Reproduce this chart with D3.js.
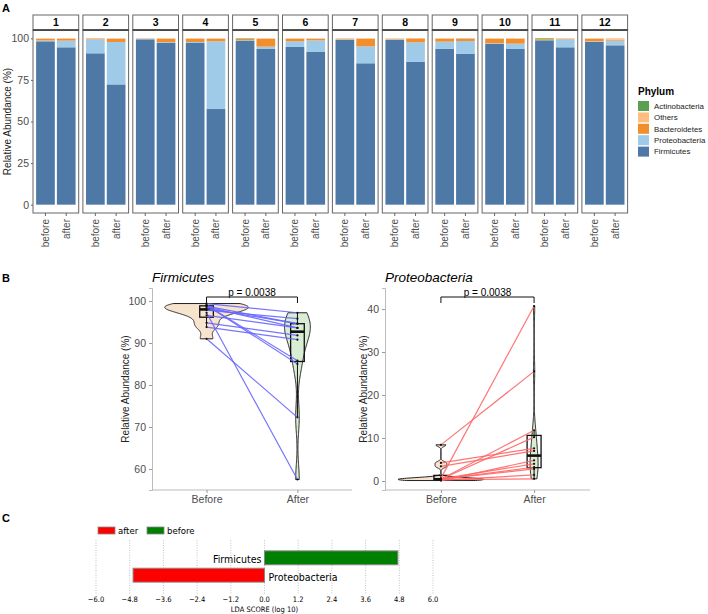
<!DOCTYPE html>
<html>
<head>
<meta charset="utf-8">
<script src="https://cdn.jsdelivr.net/npm/d3@7"></script>
<style>
  body { margin: 0; background: #fff; }
  text { font-family: Arial, "Liberation Sans", sans-serif; }
  .narrow { font-family: "Liberation Sans Narrow", "DejaVu Sans Condensed", Arial, sans-serif; }
</style>
</head>
<body>
<svg id="fig" width="708" height="614"></svg>
<script>
// ---- data ----
const samples = ['1','2','3','4','5','6','7','8','9','10','11','12'];
const times = ['before', 'after'];
const phyla = ['Firmicutes', 'Proteobacteria', 'Bacteroidetes', 'Others', 'Actinobacteria'];
const phylumColors = ['#4E79A7', '#A0CBE8', '#F28E2B', '#FFBE7D', '#59A14F'];

const firmBefore  = [98.2, 91.0, 99.4, 97.2, 98.6, 94.8, 99.0, 99.0, 93.8, 96.6, 98.8, 97.8];
const protBefore  = [0.5, 8.4, 0.3, 0.6, 0.2, 3.4, 0.4, 0.4, 4.2, 0.4, 0.1, 0.4];
const bactBefore  = [1.0, 0.5, 0.2, 2.0, 0.8, 1.6, 0.4, 0.3, 1.8, 2.8, 0.6, 1.6];
const othBefore   = [0.3, 0.1, 0.1, 0.2, 0.1, 0.2, 0.2, 0.3, 0.2, 0.2, 0.1, 0.2];
const actBefore   = [0, 0, 0, 0, 0.3, 0, 0, 0, 0, 0, 0.4, 0];

const firmAfter   = [94.6, 72.3, 97.2, 57.5, 93.6, 91.8, 85.0, 85.8, 90.8, 93.6, 94.6, 95.8];
const protAfter   = [4.0, 25.5, 0.5, 40.7, 1.4, 7.0, 10.2, 11.8, 7.6, 3.2, 4.8, 2.8];
const bactAfter   = [1.2, 2.0, 2.1, 1.6, 4.8, 1.0, 4.6, 2.3, 1.5, 3.0, 0.4, 0.6];
const othAfter    = [0.2, 0.2, 0.2, 0.2, 0.2, 0.2, 0.2, 0.1, 0.1, 0.2, 0.2, 0.8];
const actAfter    = [0, 0, 0, 0, 0, 0, 0, 0, 0, 0, 0, 0];

const groups = ['Before', 'After'];
const yTicksA = [0, 25, 50, 75, 100];
const yTicksFirm = [60, 70, 80, 90, 100];
const yTicksProt = [0, 10, 20, 30, 40];
const pLabel = 'p = 0.0038';

const ldaTaxa = ['Firmicutes', 'Proteobacteria'];
const ldaScores = [4.75, -4.68];
const ldaClasses = ['after', 'before'];
const ldaColors = ['#FF0000', '#008000'];
const ldaTicks = [-6.0, -4.8, -3.6, -2.4, -1.2, 0.0, 1.2, 2.4, 3.6, 4.8, 6.0];

const svg = d3.select('#fig');

// ---- panel A: stacked bars per subject ----
const series = {
  before: [firmBefore, protBefore, bactBefore, othBefore, actBefore],
  after:  [firmAfter, protAfter, bactAfter, othAfter, actAfter]
};
const rows = [];
samples.forEach((s, i) => times.forEach(t => {
  const r = {sample: s, time: t};
  phyla.forEach((p, k) => r[p] = series[t][k][i]);
  rows.push(r);
}));
const stacked = d3.stack().keys(phyla)(rows);

const A = {x0: 33, step: 49.9, w: 45.7, top: 15, strip: 15, bottom: 213};
const yA = d3.scaleLinear().domain([-5, 105]).range([A.bottom, A.top + A.strip]);
const xA = d3.scaleBand().domain(times).range([0, A.w]).paddingInner(0.1).paddingOuter(0.15);
const colorA = d3.scaleOrdinal().domain(phyla).range(phylumColors);

samples.forEach((s, i) => {
  const g = svg.append('g').attr('transform', `translate(${A.x0 + i * A.step},0)`);
  g.append('rect')
    .attr('y', A.top + A.strip).attr('width', A.w).attr('height', A.bottom - A.top - A.strip)
    .attr('fill', '#fff');

  stacked.forEach(layer => {
    layer.filter(d => d.data.sample === s).forEach(d => {
      g.append('rect')
        .attr('x', xA(d.data.time))
        .attr('width', xA.bandwidth())
        .attr('y', yA(d[1]))
        .attr('height', Math.max(0, yA(d[0]) - yA(d[1])))
        .attr('fill', colorA(layer.key));
    });
  });

  g.append('rect')
    .attr('y', A.top + A.strip).attr('width', A.w).attr('height', A.bottom - A.top - A.strip)
    .attr('fill', 'none').attr('stroke', '#666').attr('stroke-width', 1);
  // strip
  g.append('rect')
    .attr('y', A.top).attr('width', A.w).attr('height', A.strip)
    .attr('fill', '#fff').attr('stroke', '#666').attr('stroke-width', 1);
  g.append('line')
    .attr('x1', 0).attr('x2', A.w).attr('y1', A.top + A.strip).attr('y2', A.top + A.strip)
    .attr('stroke', '#333').attr('stroke-width', 1.5);
  g.append('text')
    .attr('x', A.w / 2).attr('y', A.top + A.strip / 2).attr('dy', '0.35em')
    .attr('text-anchor', 'middle').attr('font-size', 10.5).attr('font-weight', 'bold')
    .text(s);

  const xAxis = g.append('g').attr('transform', `translate(0,${A.bottom})`)
    .call(d3.axisBottom(xA).tickSize(3).tickPadding(2));
  xAxis.select('.domain').remove();
  xAxis.selectAll('line').attr('stroke', '#666');
  xAxis.selectAll('text')
    .attr('transform', 'rotate(-90)')
    .attr('text-anchor', 'end')
    .attr('x', -6).attr('y', 0).attr('dy', '0.35em')
    .attr('font-size', 10).attr('fill', '#4d4d4d');
});

const yAxisA = svg.append('g').attr('transform', `translate(${A.x0},0)`)
  .call(d3.axisLeft(yA).tickValues(yTicksA).tickSize(2).tickPadding(2));
yAxisA.select('.domain').remove();
yAxisA.selectAll('line').attr('stroke', '#666');
yAxisA.selectAll('text').attr('font-size', 10.5).attr('fill', '#4d4d4d');

svg.append('text')
  .attr('transform', `translate(7,${(yA(0) + yA(100)) / 2}) rotate(-90)`)
  .attr('text-anchor', 'middle').attr('dy', '0.35em')
  .attr('font-size', 10).attr('fill', '#222')
  .text('Relative Abundance (%)');

// legend A
const legA = svg.append('g').attr('transform', 'translate(638,87)');
legA.append('text').attr('y', 8).attr('font-size', 10).attr('font-weight', 'bold').text('Phylum');
phyla.slice().reverse().forEach((p, i) => {
  legA.append('rect').attr('x', 0).attr('y', 14 + i * 11.4).attr('width', 11).attr('height', 10)
    .attr('fill', colorA(p));
  legA.append('text').attr('x', 16).attr('y', 19 + i * 11.4).attr('dy', '0.35em')
    .attr('font-size', 7.9).attr('fill', '#222').text(p);
});

// panel labels
svg.append('text').attr('x', 2).attr('y', 12).attr('font-size', 11).attr('font-weight', 'bold').text('A');
svg.append('text').attr('x', 2).attr('y', 282).attr('font-size', 11).attr('font-weight', 'bold').text('B');
svg.append('text').attr('x', 2).attr('y', 522).attr('font-size', 11).attr('font-weight', 'bold').text('C');

// ---- panel B: violin + box + paired lines ----
function kde(values, lo, hi) {
  const sorted = values.slice().sort(d3.ascending);
  const sd = d3.deviation(values);
  const iqr = d3.quantile(sorted, 0.75) - d3.quantile(sorted, 0.25);
  const bw = 0.9 * Math.min(sd, iqr / 1.34) * Math.pow(values.length, -0.2);
  return d3.range(0, 201).map(i => {
    const y = lo + (hi - lo) * i / 200;
    const dens = d3.mean(values, v => Math.exp(-0.5 * ((y - v) / bw) ** 2) / Math.sqrt(2 * Math.PI)) / bw;
    return [y, dens];
  });
}

function violinPanel(cfg) {
  const g = svg.append('g');
  const x = d3.scalePoint().domain(groups).range([cfg.left, cfg.right]).padding(0.6);
  const step = x.step();
  const y = d3.scaleLinear().domain(cfg.yDomain).range([490, 288]);
  const vals = [cfg.before, cfg.after];

  const dens = vals.map(v => kde(v, d3.min(v), d3.max(v)));
  const maxD = d3.max(dens, d => d3.max(d, e => e[1]));
  const wScale = d3.scaleLinear().domain([0, maxD]).range([0, 0.46 * step]);

  // axes
  const ax = g.append('g').attr('transform', `translate(${cfg.left},0)`)
    .call(d3.axisLeft(y).tickValues(cfg.ticks).tickSize(3).tickPadding(3));
  ax.select('.domain').attr('stroke', '#bbb');
  ax.selectAll('line').attr('stroke', '#999');
  ax.selectAll('text').attr('font-size', 10.5).attr('fill', '#4d4d4d');
  const bx = g.append('g').attr('transform', `translate(0,490)`)
    .call(d3.axisBottom(x).tickSize(3).tickPadding(3));
  bx.select('.domain').attr('d', `M${cfg.left},0H${cfg.right}`).attr('stroke', '#bbb');
  bx.selectAll('line').attr('stroke', '#999');
  bx.selectAll('text').attr('font-size', 10.5).attr('fill', '#4d4d4d');

  // violins
  groups.forEach((grp, gi) => {
    const cx = x(grp);
    g.append('path')
      .datum(dens[gi])
      .attr('d', d3.area()
        .x0(d => cx - wScale(d[1]))
        .x1(d => cx + wScale(d[1]))
        .y(d => y(d[0])))
      .attr('fill', cfg.fills[gi]).attr('stroke', '#222').attr('stroke-width', 1);
  });

  // boxes
  groups.forEach((grp, gi) => {
    const cx = x(grp), bw = 0.15 * step;
    const s = vals[gi].slice().sort(d3.ascending);
    const q1 = d3.quantile(s, 0.25), q2 = d3.quantile(s, 0.5), q3 = d3.quantile(s, 0.75);
    const iqr = q3 - q1;
    const lo = d3.min(s.filter(v => v >= q1 - 1.5 * iqr));
    const hi = d3.max(s.filter(v => v <= q3 + 1.5 * iqr));
    g.append('line').attr('x1', cx).attr('x2', cx).attr('y1', y(hi)).attr('y2', y(q3)).attr('stroke', '#111');
    g.append('line').attr('x1', cx).attr('x2', cx).attr('y1', y(q1)).attr('y2', y(lo)).attr('stroke', '#111');
    g.append('rect').attr('x', cx - bw / 2).attr('width', bw)
      .attr('y', y(q3)).attr('height', y(q1) - y(q3))
      .attr('fill', 'none').attr('stroke', '#111').attr('stroke-width', 1.3);
    g.append('line').attr('x1', cx - bw / 2).attr('x2', cx + bw / 2)
      .attr('y1', y(q2)).attr('y2', y(q2)).attr('stroke', '#111').attr('stroke-width', 2.6);
  });

  // paired lines
  cfg.before.forEach((b, i) => {
    g.append('line')
      .attr('x1', x('Before')).attr('y1', y(b))
      .attr('x2', x('After')).attr('y2', y(cfg.after[i]))
      .attr('stroke', cfg.lineColor).attr('stroke-width', 1.2).attr('stroke-opacity', 0.9);
  });
  // points
  groups.forEach((grp, gi) => {
    vals[gi].forEach(v => {
      g.append('circle').attr('cx', x(grp)).attr('cy', y(v)).attr('r', 1.1).attr('fill', '#111');
    });
  });

  // significance bracket
  g.append('path')
    .attr('d', `M${x('Before')},303V297H${x('After')}V303`)
    .attr('fill', 'none').attr('stroke', '#111').attr('stroke-width', 1);
  g.append('text')
    .attr('x', (x('Before') + x('After')) / 2).attr('y', 295.5)
    .attr('text-anchor', 'middle').attr('font-size', 10).text(pLabel);

  // titles
  g.append('text').attr('x', cfg.left).attr('y', 282)
    .attr('font-size', 13.5).attr('font-style', 'italic').text(cfg.title);
  g.append('text')
    .attr('transform', `translate(${cfg.titleX},389) rotate(-90)`)
    .attr('text-anchor', 'middle').attr('dy', '0.35em')
    .attr('font-size', 10).attr('fill', '#222').text('Relative Abundance (%)');
}

violinPanel({
  title: 'Firmicutes', left: 152, right: 352, titleX: 125,
  yDomain: [55, 103.1], ticks: yTicksFirm,
  before: firmBefore, after: firmAfter,
  fills: ['#F6E4CF', '#D8EDD3'], lineColor: '#6666FF'
});
violinPanel({
  title: 'Proteobacteria', left: 385, right: 590, titleX: 363,
  yDomain: [-2.1, 44.9], ticks: yTicksProt,
  before: protBefore, after: protAfter,
  fills: ['#F6E4CF', '#D8EDD3'], lineColor: '#FF6666'
});

// ---- panel C: LDA scores ----
const xC = d3.scaleLinear().domain([-6, 6]).range([96, 433]);
const yC = d3.scaleBand().domain(ldaTaxa).range([550, 583]).paddingInner(0.2).paddingOuter(0.05);
const gC = svg.append('g');

gC.selectAll('.grid').data(ldaTicks).join('line')
  .attr('x1', d => xC(d)).attr('x2', d => xC(d))
  .attr('y1', 540).attr('y2', 594)
  .attr('stroke', '#999').attr('stroke-width', 0.6).attr('stroke-dasharray', '1,1.5');

gC.selectAll('.bar').data(ldaTaxa).join('rect')
  .attr('x', (d, i) => xC(Math.min(0, ldaScores[i])))
  .attr('width', (d, i) => Math.abs(xC(ldaScores[i]) - xC(0)))
  .attr('y', d => yC(d)).attr('height', yC.bandwidth())
  .attr('fill', (d, i) => ldaScores[i] > 0 ? ldaColors[1] : ldaColors[0])
  .attr('stroke', '#888').attr('stroke-width', 1);

gC.selectAll('.lab').data(ldaTaxa).join('text')
  .attr('class', 'narrow')
  .attr('x', (d, i) => ldaScores[i] > 0 ? xC(0) - 3 : xC(0) + 4)
  .attr('y', d => yC(d) + yC.bandwidth() / 2 + 2).attr('dy', '0.35em')
  .attr('text-anchor', (d, i) => ldaScores[i] > 0 ? 'end' : 'start')
  .attr('font-size', 10.5).text(d => d);

const fmt = d => (d < 0 ? '\u2212' : '') + Math.abs(d).toFixed(1);
gC.selectAll('.tick').data(ldaTicks).join('text')
  .attr('class', 'narrow')
  .attr('x', d => xC(d)).attr('y', 599).attr('dy', '0.35em')
  .attr('text-anchor', 'middle').attr('font-size', 7.5).text(fmt);
gC.append('text').attr('class', 'narrow')
  .attr('x', xC(0)).attr('y', 609).attr('dy', '0.35em')
  .attr('text-anchor', 'middle').attr('font-size', 7.5).text('LDA SCORE (log 10)');

ldaClasses.forEach((c, i) => {
  const lx = 98 + i * 49;
  gC.append('rect').attr('x', lx).attr('y', 527).attr('width', 17).attr('height', 7)
    .attr('fill', ldaColors[i]).attr('stroke', '#888').attr('stroke-width', 0.8);
  gC.append('text').attr('class', 'narrow').attr('x', lx + 20).attr('y', 531).attr('dy', '0.35em')
    .attr('font-size', 9.5).text(c);
});
</script>
</body>
</html>
